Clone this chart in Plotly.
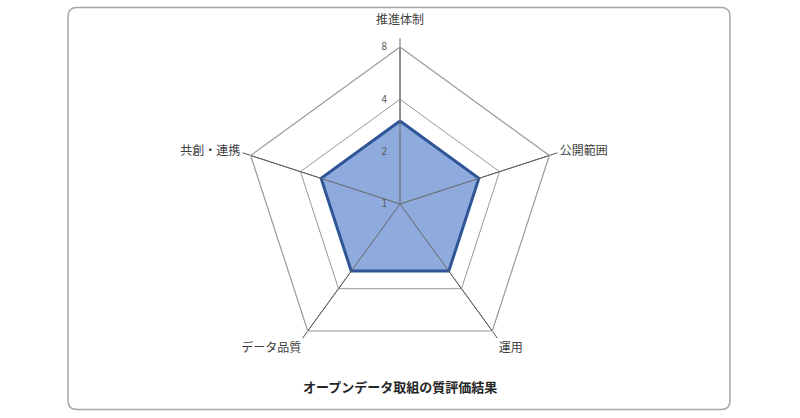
import math
import plotly.graph_objects as go

categories = ["推進体制", "公開範囲", "運用", "データ品質", "共創・連携"]
values = [3, 3, 3, 3, 3]
tick_values = [1, 2, 4, 8]
title_text = "オープンデータ取組の質評価結果"

W, H = 800, 418
FONT = "Noto Sans CJK JP"

fig = go.Figure()

# filled data polygon
fig.add_trace(go.Scatterpolar(
    r=values + values[:1],
    theta=categories + categories[:1],
    mode="lines",
    fill="toself",
    fillcolor="#8faadc",
    line=dict(color="#2f5597", width=3),
    hoverinfo="skip",
    showlegend=False,
))

# spokes drawn above the fill
sr, st = [], []
for c in categories:
    sr += [tick_values[0], tick_values[-1], None]
    st += [c, c, None]
fig.add_trace(go.Scatterpolar(
    r=sr, theta=st, mode="lines",
    line=dict(color="#666666", width=1),
    hoverinfo="skip", showlegend=False,
))

# top category label is placed as an annotation (further out, like the original)
cat_text = [""] + categories[1:]

cx, cy, R = 400, 204, 157
fig.update_layout(
    width=W, height=H,
    margin=dict(l=0, r=0, t=0, b=0),
    paper_bgcolor="white",
    font=dict(family=FONT, color="#404040"),
    polar=dict(
        domain=dict(x=[(cx - R) / W, (cx + R) / W],
                    y=[(H - cy - R) / H, (H - cy + R) / H]),
        bgcolor="white",
        gridshape="linear",
        radialaxis=dict(
            type="log",
            range=[0, math.log10(tick_values[-1])],
            tickvals=tick_values,
            ticktext=[str(v) for v in tick_values],
            angle=90,
            tickangle=90,
            side="counterclockwise",
            showline=False,
            showgrid=True,
            gridcolor="#999999",
            gridwidth=1.2,
            ticks="outside",
            ticklen=9,
            tickcolor="rgba(0,0,0,0)",
            tickfont=dict(size=10, color="#595959", family=FONT),
        ),
        angularaxis=dict(
            direction="clockwise",
            rotation=90,
            tickvals=categories,
            ticktext=cat_text,
            showline=True,
            linecolor="#999999",
            linewidth=1.2,
            showgrid=True,
            gridcolor="#666666",
            ticks="outside",
            ticklen=8,
            tickcolor="#666666",
            tickfont=dict(size=12, color="#404040", family=FONT),
        ),
    ),
)

fig.add_annotation(
    x=0.5, y=(H - 18) / H, xref="paper", yref="paper",
    text=categories[0], showarrow=False,
    font=dict(size=12, color="#404040", family=FONT),
    xanchor="center", yanchor="middle",
)

# title at bottom
fig.add_annotation(
    x=0.5, y=(H - 386) / H, xref="paper", yref="paper",
    text="<b>" + title_text + "</b>", showarrow=False,
    font=dict(size=13, color="#262626", family=FONT),
    xanchor="center", yanchor="middle",
)

# rounded chart-area border
x0, x1 = 68 / W, 730 / W
y0, y1 = (H - 409.5) / H, (H - 7.5) / H
rx, ry = 9 / W, 9 / H
path = (f"M {x0+rx},{y1} L {x1-rx},{y1} Q {x1},{y1} {x1},{y1-ry} "
        f"L {x1},{y0+ry} Q {x1},{y0} {x1-rx},{y0} L {x0+rx},{y0} "
        f"Q {x0},{y0} {x0},{y0+ry} L {x0},{y1-ry} Q {x0},{y1} {x0+rx},{y1} Z")
fig.add_shape(type="path", path=path, xref="paper", yref="paper",
              line=dict(color="#a6a6a6", width=1.5))

fig.write_html("out.html", config={"displayModeBar": False},
               post_script="document.body.style.margin='0';")
